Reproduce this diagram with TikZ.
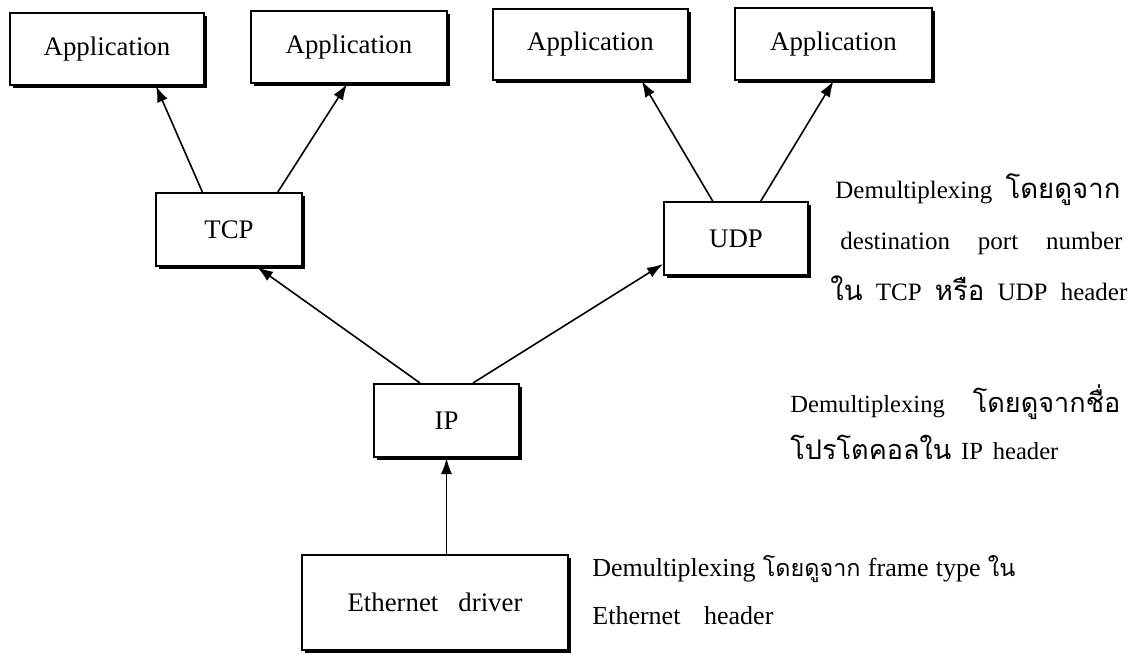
\documentclass[tikz,border=0pt]{standalone}
\usepackage{fontspec}
\setmainfont{Liberation Serif}
\newfontfamily\thaifont[Script=Thai,Scale=1.1]{Loma}
\newfontfamily\thaismallfont[Script=Thai,Scale=0.9]{Loma}
\newcommand{\thai}[1]{{\thaifont #1}}
\newcommand{\thaismall}[1]{{\thaismallfont #1}}
% one line of a remark, stretched to a given width
\newcommand{\remline}[2]{\makebox[#1][s]{#2}}
\usetikzlibrary{arrows.meta,calc,shadows}
\tikzset{layer/.style={
                       % The shape:
                       rectangle,inner sep=0pt,
                       % The rest
                       line width=1pt,draw=black,fill=white,
                       drop shadow={opacity=1,fill=black,shadow xshift=1.3pt,shadow yshift=-1.3pt},
                       font=\fontsize{13.4}{15}\selectfont
                       },
         conn/.style={-{Latex[length=8pt,width=5.5pt]},line width=0.8pt},
         remark/.style={inner sep=0pt,align=left,anchor=west}}

\begin{document}
\begin{tikzpicture}[x=0.5pt,y=-0.5pt]
  \useasboundingbox (0,0) rectangle (1129,654);
  % Applications:
  \node (app1) [layer,minimum width=97pt,minimum height=36pt] at (107,49) {Application};
  \node (app2) [layer,minimum width=98pt,minimum height=36pt] at (349,47) {Application};
  \node (app3) [layer,minimum width=97.5pt,minimum height=35.5pt] at (590.5,44.5) {Application};
  \node (app4) [layer,minimum width=98.5pt,minimum height=36pt] at (833.5,44) {Application};
  % Transport:
  \node (tcp) [layer,minimum width=73pt,minimum height=36.5pt] at (229,229.5) {TCP};
  \node (udp) [layer,minimum width=72pt,minimum height=36.5pt] at (736,238.5) {UDP};
  % Network and link:
  \node (ip) [layer,minimum width=72.5pt,minimum height=36.5pt] at (446.5,420.5) {IP};
  \node (eth) [layer,minimum width=133pt,minimum height=47.5pt] at (435,602.5) {Ethernet\hspace{0.75em}driver};

  % Connectors:
  \draw[conn] ($(tcp.north west)!0.32!(tcp.north east)$) -- ($(app1.south west)!0.75!(app1.south east)$);
  \draw[conn] ($(tcp.north west)!0.83!(tcp.north east)$) -- ($(app2.south west)!0.49!(app2.south east)$);
  \draw[conn] ($(udp.north west)!0.34!(udp.north east)$) -- ($(app3.south west)!0.76!(app3.south east)$);
  \draw[conn] ($(udp.north west)!0.67!(udp.north east)$) -- ($(app4.south west)!0.50!(app4.south east)$);
  \draw[conn] ($(ip.north west)!0.32!(ip.north east)$) -- ($(tcp.south west)!0.69!(tcp.south east)$);
  \draw[conn] ($(ip.north west)!0.68!(ip.north east)$) -- ($(udp.north west)!0.84!(udp.south west)$);
  \draw[conn] (eth.north -| ip) -- (ip.south);

  % Remarks:
  \node (udpnote) [remark,font=\fontsize{12.5}{25.5}\selectfont] at (830,237)
    {\hspace*{2.5pt}\remline{142.5pt}{Demultiplexing \thai{โดยดูจาก}}\\
     \hspace*{5pt}\remline{141pt}{destination port number}\\
     \remline{148.5pt}{\thai{ใน} TCP \thai{หรือ} UDP header}};
  \node (ipnote) [remark,font=\fontsize{12.3}{23.5}\selectfont] at (790,422)
    {\remline{165pt}{Demultiplexing \thai{โดยดูจากชื่อ}}\\
     \remline{134pt}{\thai{โปรโตคอลใน} IP header}};
  \node (ethnote) [remark,font=\fontsize{13}{24}\selectfont] at (592,590)
    {\remline{211.5pt}{Demultiplexing \thaismall{โดยดูจาก} frame type \thaismall{ใน}}\\
     \remline{90.5pt}{Ethernet header}};
\end{tikzpicture}
\end{document}
